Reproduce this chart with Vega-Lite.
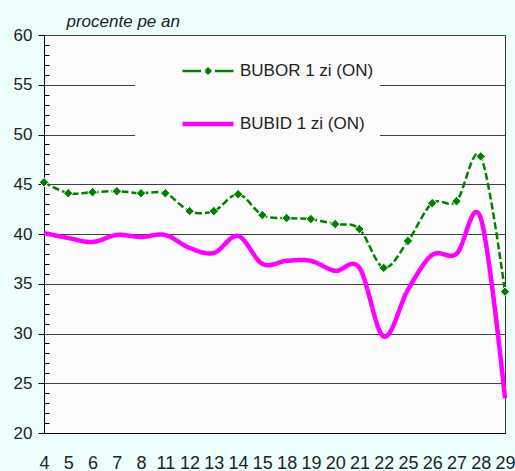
{
  "$schema": "https://vega.github.io/schema/vega-lite/v6.json",
  "width": 461,
  "height": 398,
  "autosize": "none",
  "padding": {"left": 44, "top": 35, "right": 10, "bottom": 38},
  "background": "#edfffd",
  "config": {
    "font": "Liberation Sans",
    "view": {"fill": "#fbfbfb", "stroke": "#333333", "strokeWidth": 1}
  },
  "data": {
    "values": [
      {"d": 4, "s": "BUBOR 1 zi (ON)", "v": 45.2},
      {"d": 5, "s": "BUBOR 1 zi (ON)", "v": 44.1},
      {"d": 6, "s": "BUBOR 1 zi (ON)", "v": 44.2},
      {"d": 7, "s": "BUBOR 1 zi (ON)", "v": 44.3},
      {"d": 8, "s": "BUBOR 1 zi (ON)", "v": 44.1},
      {"d": 11, "s": "BUBOR 1 zi (ON)", "v": 44.1},
      {"d": 12, "s": "BUBOR 1 zi (ON)", "v": 42.3},
      {"d": 13, "s": "BUBOR 1 zi (ON)", "v": 42.3},
      {"d": 14, "s": "BUBOR 1 zi (ON)", "v": 44.0},
      {"d": 15, "s": "BUBOR 1 zi (ON)", "v": 41.9},
      {"d": 18, "s": "BUBOR 1 zi (ON)", "v": 41.6},
      {"d": 19, "s": "BUBOR 1 zi (ON)", "v": 41.5},
      {"d": 20, "s": "BUBOR 1 zi (ON)", "v": 41.0},
      {"d": 21, "s": "BUBOR 1 zi (ON)", "v": 40.5},
      {"d": 22, "s": "BUBOR 1 zi (ON)", "v": 36.6},
      {"d": 25, "s": "BUBOR 1 zi (ON)", "v": 39.3},
      {"d": 26, "s": "BUBOR 1 zi (ON)", "v": 43.1},
      {"d": 27, "s": "BUBOR 1 zi (ON)", "v": 43.3},
      {"d": 28, "s": "BUBOR 1 zi (ON)", "v": 47.8},
      {"d": 29, "s": "BUBOR 1 zi (ON)", "v": 34.2},
      {"d": 4, "s": "BUBID 1 zi (ON)", "v": 40.1},
      {"d": 5, "s": "BUBID 1 zi (ON)", "v": 39.6},
      {"d": 6, "s": "BUBID 1 zi (ON)", "v": 39.2},
      {"d": 7, "s": "BUBID 1 zi (ON)", "v": 39.9},
      {"d": 8, "s": "BUBID 1 zi (ON)", "v": 39.7},
      {"d": 11, "s": "BUBID 1 zi (ON)", "v": 39.9},
      {"d": 12, "s": "BUBID 1 zi (ON)", "v": 38.6},
      {"d": 13, "s": "BUBID 1 zi (ON)", "v": 38.1},
      {"d": 14, "s": "BUBID 1 zi (ON)", "v": 39.8},
      {"d": 15, "s": "BUBID 1 zi (ON)", "v": 37.0},
      {"d": 18, "s": "BUBID 1 zi (ON)", "v": 37.3},
      {"d": 19, "s": "BUBID 1 zi (ON)", "v": 37.3},
      {"d": 20, "s": "BUBID 1 zi (ON)", "v": 36.3},
      {"d": 21, "s": "BUBID 1 zi (ON)", "v": 36.6},
      {"d": 22, "s": "BUBID 1 zi (ON)", "v": 29.7},
      {"d": 25, "s": "BUBID 1 zi (ON)", "v": 34.4},
      {"d": 26, "s": "BUBID 1 zi (ON)", "v": 37.9},
      {"d": 27, "s": "BUBID 1 zi (ON)", "v": 38.0},
      {"d": 28, "s": "BUBID 1 zi (ON)", "v": 41.6},
      {"d": 29, "s": "BUBID 1 zi (ON)", "v": 23.5}
    ]
  },
  "encoding": {
    "x": {
      "field": "d",
      "type": "ordinal",
      "scale": {"type": "point", "padding": 0},
      "axis": {
        "title": null,
        "labelAngle": 0,
        "ticks": false,
        "tickSize": 0,
        "grid": false,
        "domainColor": "#000000",
        "labelFontSize": 18,
        "labelColor": "#222222",
        "labelPadding": 21
      }
    }
  },
  "layer": [
    {
      "mark": {"type": "line", "interpolate": "cardinal"},
      "encoding": {
        "y": {
          "field": "v",
          "type": "quantitative",
          "scale": {"domain": [20, 60], "nice": false, "zero": false},
          "axis": {
            "values": [20, 25, 30, 35, 40, 45, 50, 55, 60],
            "grid": true,
            "gridColor": "#404040",
            "gridWidth": 1,
            "domainColor": "#000000",
            "tickColor": "#000000",
            "tickSize": 6,
            "labelFontSize": 17,
            "labelColor": "#222222",
            "labelPadding": 6,
            "title": "procente pe an",
            "titleAngle": 0,
            "titleAlign": "left",
            "titleBaseline": "alphabetic",
            "titleX": 22,
            "titleY": -9,
            "titleFontSize": 17,
            "titleFontStyle": "italic",
            "titleFontWeight": "normal",
            "titleColor": "#222222"
          }
        },
        "color": {
          "field": "s",
          "type": "nominal",
          "scale": {"domain": ["BUBOR 1 zi (ON)", "BUBID 1 zi (ON)"], "range": ["#008000", "#ff00ff"]},
          "legend": {
            "title": null,
            "orient": "none",
            "legendX": 91,
            "legendY": 3,
            "symbolType": "stroke",
            "symbolSize": 2601,
            "symbolOffset": 39,
            "labelFontSize": 17,
            "labelColor": "#222222",
            "labelOffset": 4,
            "labelLimit": 400,
            "padding": 6,
            "rowPadding": 17,
            "fillColor": "#fbfbfb",
            "encode": {
              "symbols": {
                "update": {
                  "shape": {"signal": "datum.value === 'BUBOR 1 zi (ON)' ? 'M-1,0H-0.757M-0.757,0H-0.513M-0.513,0H-0.27M0.27,0H0.513M0.513,0H0.757M0.757,0H1M0,-0.09L0.09,0L0,0.09L-0.09,0ZM0,-0.09L0.09,0M0.09,0L0,0.09M0,0.09L-0.09,0M-0.09,0L0,-0.09' : 'stroke'"},
                  "fill": {"signal": "datum.value === 'BUBOR 1 zi (ON)' ? '#008000' : 'transparent'"}
                }
              }
            }
          }
        },
        "strokeDash": {
          "field": "s",
          "type": "nominal",
          "scale": {"domain": ["BUBOR 1 zi (ON)", "BUBID 1 zi (ON)"], "range": [[7, 3], [1, 0]]}
        },
        "strokeWidth": {
          "field": "s",
          "type": "nominal",
          "scale": {"domain": ["BUBOR 1 zi (ON)", "BUBID 1 zi (ON)"], "range": [2.5, 4.5]}
        }
      }
    },
    {
      "transform": [{"filter": "datum.s === 'BUBOR 1 zi (ON)'"}],
      "mark": {"type": "point", "shape": "diamond", "filled": true, "size": 90, "color": "#008000", "stroke": "#ffffff", "strokeWidth": 1, "opacity": 1},
      "encoding": {
        "y": {
          "field": "v",
          "type": "quantitative",
          "axis": {
            "orient": "left",
            "values": [21, 22, 23, 24, 26, 27, 28, 29, 31, 32, 33, 34, 36, 37, 38, 39, 41, 42, 43, 44, 46, 47, 48, 49, 51, 52, 53, 54, 56, 57, 58, 59],
            "offset": -5,
            "tickSize": 5,
            "tickColor": "#000000",
            "labels": false,
            "domain": false,
            "grid": false,
            "title": null
          }
        }
      }
    }
  ],
  "resolve": {"axis": {"y": "independent"}}
}
